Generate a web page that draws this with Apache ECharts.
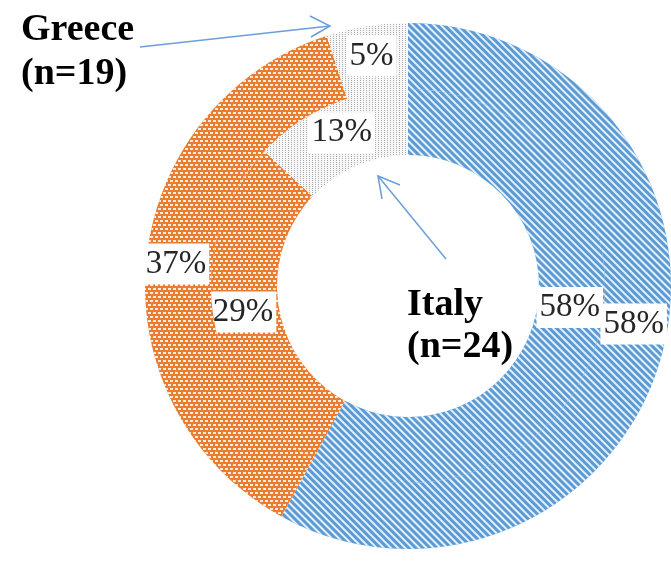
<!DOCTYPE html>
<html>
<head>
<meta charset="utf-8">
<script src="https://cdn.jsdelivr.net/npm/echarts@6/dist/echarts.min.js"></script>
<style>
html,body{margin:0;padding:0;background:#fff;}
#chart{width:671px;height:575px;}
</style>
</head>
<body>
<div id="chart"></div>
<script>
// Data
var categories = ['Blue', 'Orange', 'Grey'];
var greeceValues = [58, 37, 5];   // outer ring (n=19)
var italyValues = [58, 29, 13];   // inner ring (n=24)
var greeceTitle = ['Greece', '(n=19)'];
var italyTitle = ['Italy', '(n=24)'];

var styles = [
  { color: '#5B9BD5', decal: { symbol: 'rect', symbolSize: 1, color: 'rgba(236,244,252,0.95)', dashArrayX: [1, 0], dashArrayY: [1.6, 2.2], rotation: Math.PI / 4 } },
  { color: '#EC7C30', decal: { symbol: 'rect', symbolSize: 1, color: 'rgba(255,236,218,1)', dashArrayX: [[3, 2], [1, 2, 2, 0]], dashArrayY: [1.2, 2], rotation: 0 } },
  { color: '#F7F7F7', decal: { symbol: 'rect', symbolSize: 1, color: 'rgba(165,165,165,0.9)', dashArrayX: [1, 2], dashArrayY: [1, 1], rotation: 0 } }
];

function build(values) {
  return values.map(function (v, i) {
    return { name: categories[i], value: v, itemStyle: { color: styles[i].color, decal: styles[i].decal } };
  });
}

var labelStyle = {
  show: true,
  position: 'inside',
  formatter: '{c}%',
  fontFamily: 'Liberation Serif',
  fontSize: 33,
  color: '#262626',
  backgroundColor: '#ffffff',
  padding: [5, 3, 3, 3]
};

// Excel nudged the right-hand labels upward
function nudge(params) {
  if (params.dataIndex === 0) {
    return { dy: -20 };
  }
  return {};
}

var chart = echarts.init(document.getElementById('chart'));
var arrowColor = '#6A9FD8';

chart.setOption({
  animation: false,
  series: [
    {
      type: 'pie',
      center: [408, 286],
      radius: [197, 263],
      startAngle: 90,
      clockwise: true,
      silent: true,
      label: labelStyle,
      labelLine: { show: false },
      labelLayout: nudge,
      itemStyle: { borderWidth: 0 },
      data: build(greeceValues),
      z: 2
    },
    {
      type: 'pie',
      center: [408, 286],
      radius: [131, 197],
      startAngle: 90,
      clockwise: true,
      silent: true,
      label: labelStyle,
      labelLine: { show: false },
      labelLayout: nudge,
      itemStyle: { borderWidth: 0 },
      data: build(italyValues),
      z: 1
    }
  ],
  graphic: [
    { type: 'text', left: 21, top: 8, style: { text: greeceTitle.join('\n'), font: 'bold 38px "Liberation Serif"', fill: '#000', lineHeight: 44 } },
    { type: 'text', left: 407, top: 284, style: { text: italyTitle.join('\n'), font: 'bold 38px "Liberation Serif"', fill: '#000', lineHeight: 42 } },
    { type: 'line', shape: { x1: 140, y1: 47, x2: 330, y2: 26 }, style: { stroke: arrowColor, lineWidth: 1.5 }, z: 10 },
    { type: 'polyline', shape: { points: [[310, 16], [330, 26], [311, 37]] }, style: { stroke: arrowColor, lineWidth: 1.5, fill: null }, z: 10 },
    { type: 'line', shape: { x1: 446, y1: 259, x2: 378, y2: 176 }, style: { stroke: arrowColor, lineWidth: 1.5 }, z: 10 },
    { type: 'polyline', shape: { points: [[400, 185], [378, 176], [382, 199]] }, style: { stroke: arrowColor, lineWidth: 1.5, fill: null }, z: 10 }
  ]
});
</script>
</body>
</html>
